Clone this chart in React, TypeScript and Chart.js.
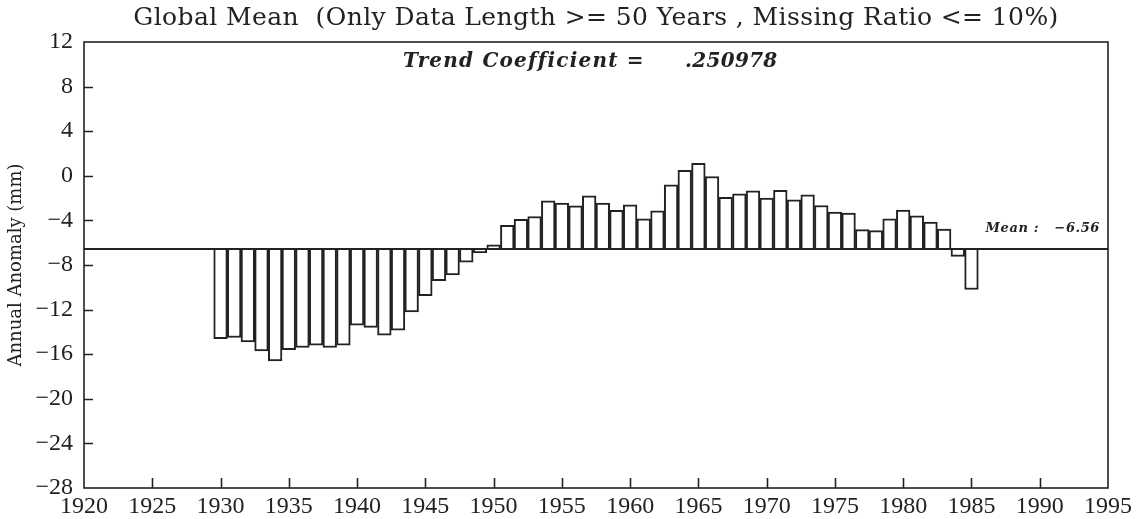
import React, { useEffect, useRef } from "react";
import { Chart, registerables } from "chart.js";

Chart.register(...registerables);

const YEARS: number[] = [
  1930, 1931, 1932, 1933, 1934, 1935, 1936, 1937, 1938, 1939,
  1940, 1941, 1942, 1943, 1944, 1945, 1946, 1947, 1948, 1949,
  1950, 1951, 1952, 1953, 1954, 1955, 1956, 1957, 1958, 1959,
  1960, 1961, 1962, 1963, 1964, 1965, 1966, 1967, 1968, 1969,
  1970, 1971, 1972, 1973, 1974, 1975, 1976, 1977, 1978, 1979,
  1980, 1981, 1982, 1983, 1984, 1985,
];

const ANOMALY: number[] = [
  -14.6, -14.5, -14.9, -15.7, -16.6, -15.6, -15.4, -15.2, -15.4, -15.2,
  -13.4, -13.6, -14.3, -13.85, -12.2, -10.75, -9.4, -8.9, -7.75, -6.9,
  -6.2, -4.45, -3.9, -3.65, -2.25, -2.45, -2.7, -1.8, -2.45, -3.1,
  -2.6, -3.85, -3.15, -0.8, 0.48, 1.12, -0.06, -1.92, -1.62, -1.34,
  -2.0, -1.31, -2.15, -1.7, -2.66, -3.25, -3.34, -4.83, -4.92, -3.85,
  -3.07, -3.58, -4.15, -4.77, -7.22, -10.2,
];

const MEAN = -6.56;
const TREND = ".250978";
const X_RANGE: number[] = [1920, 1995];
const Y_RANGE: number[] = [-28, 12];
const TITLE = "Global Mean  (Only Data Length >= 50 Years , Missing Ratio <= 10%)";
const Y_TITLE = "Annual Anomaly (mm)";

const INK = "#222";
const SERIF = "'DejaVu Serif', serif";
const TICK_FONT = "'Liberation Serif', serif";

const framePlugin = {
  id: "framePlugin",
  afterDraw(chart: any) {
    const ctx = chart.ctx;
    const { left, right, top, bottom } = chart.chartArea;
    const xs = chart.scales.x;
    const ys = chart.scales.y;
    ctx.save();
    ctx.strokeStyle = INK;
    ctx.lineWidth = 1.6;
    ctx.strokeRect(left, top, right - left, bottom - top);
    ctx.beginPath();
    ys.ticks.forEach((t: any) => {
      const py = Math.round(ys.getPixelForValue(t.value)) + 0.5;
      if (py > top + 2 && py < bottom - 2) {
        ctx.moveTo(left, py);
        ctx.lineTo(left + 9, py);
      }
    });
    xs.ticks.forEach((t: any) => {
      const px = Math.round(xs.getPixelForValue(t.value)) + 0.5;
      if (px > left + 2 && px < right - 2) {
        ctx.moveTo(px, bottom);
        ctx.lineTo(px, bottom - 10);
      }
    });
    ctx.stroke();

    ctx.fillStyle = INK;
    ctx.textBaseline = "alphabetic";

    // title
    ctx.font = `25px ${SERIF}`;
    ctx.textAlign = "center";
    (ctx as any).letterSpacing = "0.4px";
    ctx.fillText(TITLE, (left + right) / 2, 25);

    // trend coefficient
    ctx.font = `italic bold 20px ${SERIF}`;
    ctx.textAlign = "left";
    (ctx as any).letterSpacing = "1.2px";
    ctx.fillText("Trend Coefficient =", 403, top + 25);
    (ctx as any).letterSpacing = "0.3px";
    ctx.fillText(TREND, 685, top + 25);

    // mean label
    (ctx as any).letterSpacing = "0.6px";
    ctx.font = `italic bold 13px ${SERIF}`;
    ctx.textAlign = "right";
    ctx.fillText(`Mean :   ${MEAN.toFixed(2).replace("-", "\u2212")}`, right - 8, ys.getPixelForValue(MEAN) - 17);
    ctx.restore();
  },
};

export default function App() {
  const ref = useRef<HTMLCanvasElement | null>(null);

  useEffect(() => {
    document.body.style.margin = "0";
    const canvas = ref.current;
    if (!canvas) return;
    const chart = new Chart(canvas, {
      type: "bar",
      data: {
        datasets: [
          {
            type: "line",
            data: [
              { x: X_RANGE[0], y: MEAN },
              { x: X_RANGE[1], y: MEAN },
            ],
            borderColor: INK,
            borderWidth: 2,
            pointRadius: 0,
            fill: false,
          } as any,
          {
            type: "bar",
            data: YEARS.map((yr, i) => ({ x: yr, y: ANOMALY[i] })),
            base: MEAN,
            backgroundColor: "#fff",
            borderColor: INK,
            borderWidth: 2,
            barPercentage: 1,
            categoryPercentage: 1,
          } as any,
        ],
      },
      options: {
        responsive: false,
        animation: false,
        layout: { padding: { left: 0, right: 30, top: 42, bottom: 0 } },
        plugins: {
          legend: { display: false },
          tooltip: { enabled: false },
          title: { display: false },
        },
        scales: {
          x: {
            type: "linear",
            min: X_RANGE[0],
            max: X_RANGE[1],
            offset: false,
            grid: { display: false, offset: false, drawTicks: false },
            border: { display: false },
            ticks: {
              stepSize: 5,
              color: INK,
              padding: 4,
              font: { family: TICK_FONT, size: 24 },
              maxRotation: 0,
              autoSkip: false,
              callback: (v: any) => String(v),
            },
            afterFit: (s: any) => {
              s.height = 31;
            },
          },
          y: {
            min: Y_RANGE[0],
            max: Y_RANGE[1],
            grid: { display: false, drawTicks: false },
            border: { display: false },
            ticks: {
              stepSize: 4,
              color: INK,
              padding: 11,
              font: { family: TICK_FONT, size: 24 },
              callback: (v: any) => (Number(v) < 0 ? "\u2212" + Math.abs(Number(v)) : String(v)),
            },
            title: {
              display: true,
              text: Y_TITLE,
              color: INK,
              font: { family: SERIF, size: 18 },
              padding: { top: 6, bottom: 0 },
            },
            afterFit: (s: any) => {
              s.width = 84;
            },
          },
        },
      } as any,
      plugins: [framePlugin],
    });
    return () => chart.destroy();
  }, []);

  return (
    <div style={{ width: 1138, height: 519 }}>
      <canvas ref={ref} width={1138} height={519} />
    </div>
  );
}
